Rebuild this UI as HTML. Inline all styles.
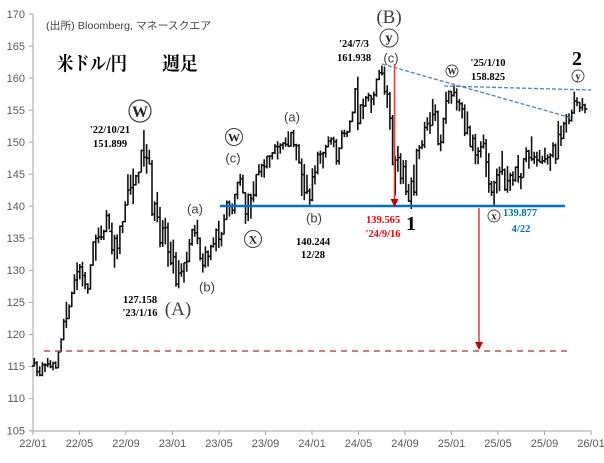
<!DOCTYPE html>
<html><head><meta charset="utf-8"><style>
html,body{margin:0;padding:0;background:#fff;}
svg{display:block;}
.ax{font-family:"Liberation Sans",sans-serif;font-size:11px;fill:#595959;}
.sf{font-family:"Liberation Serif","Noto Serif CJK JP",serif;font-weight:bold;font-size:10.5px;fill:#000;text-anchor:middle;}
.ss{font-family:"Liberation Sans",sans-serif;font-size:13px;fill:#404040;text-anchor:middle;}
.big{font-family:"Liberation Serif",serif;font-size:19px;fill:#404040;text-anchor:middle;}
.cl{font-family:"Liberation Serif",serif;font-weight:bold;fill:#222;text-anchor:middle;}
</style></head><body>
<svg id="c" width="604" height="463" viewBox="0 0 604 463" xmlns="http://www.w3.org/2000/svg">
<rect width="604" height="463" fill="#fff"/>
<g id="axes" stroke="#a6a6a6" stroke-width="1" fill="none">
<line x1="33" y1="14" x2="33" y2="431"/>
<line x1="33" y1="431" x2="591" y2="431"/>
</g>
<g id="yt"></g>
<g id="bars"></g>
<!-- lines -->
<line x1="44" y1="351" x2="567" y2="351" stroke="#c0504d" stroke-width="1.5" stroke-dasharray="6,5"/>
<line x1="220" y1="206" x2="565" y2="206" stroke="#0070c0" stroke-width="2.5"/>
<line x1="382" y1="64" x2="572" y2="118" stroke="#4f81c8" stroke-width="1.3" stroke-dasharray="4,2"/>
<line x1="444" y1="86" x2="591" y2="90" stroke="#4f81c8" stroke-width="1.3" stroke-dasharray="4,2"/>
<line x1="394.5" y1="64" x2="394.5" y2="200" stroke="#e0403c" stroke-width="1.5"/>
<polygon points="390.5,199 398.5,199 394.5,207" fill="#c00000"/>
<line x1="479" y1="208" x2="479" y2="343" stroke="#e0403c" stroke-width="1.5"/>
<polygon points="475,342 483,342 479,350" fill="#c00000"/>

<!-- texts -->
<text x="46" y="29" font-family="'Liberation Sans','Noto Sans CJK JP',sans-serif" font-size="10.5" fill="#404040" textLength="165" lengthAdjust="spacingAndGlyphs">(出所)  Bloomberg, マネースクエア</text>
<text x="57" y="70" font-family="'Liberation Serif','Noto Serif CJK JP',serif" font-weight="bold" font-size="19" fill="#000" textLength="70" lengthAdjust="spacingAndGlyphs">米ドル/円</text>
<text x="162" y="70" font-family="'Liberation Serif','Noto Serif CJK JP',serif" font-weight="bold" font-size="19" fill="#000" textLength="36" lengthAdjust="spacingAndGlyphs">週足</text>

<circle cx="140" cy="111" r="11" fill="#fff" stroke="#404040" stroke-width="1.2"/>
<text class="cl" x="140" y="117" font-size="16">W</text>
<text class="sf" x="110" y="133">'22/10/21</text>
<text class="sf" x="110" y="147">151.899</text>

<text class="ss" x="195" y="213.5">(a)</text>
<text class="ss" x="207" y="291.5">(b)</text>
<text class="sf" x="140" y="303">127.158</text>
<text class="sf" x="140" y="316">'23/1/16</text>
<text class="big" x="178" y="315">(A)</text>

<circle cx="234" cy="137" r="8.5" fill="#fff" stroke="#404040" stroke-width="1"/>
<text class="cl" x="234" y="141.5" font-size="12">W</text>
<text class="ss" x="233" y="162.5">(c)</text>
<circle cx="253" cy="239" r="8.5" fill="#fff" stroke="#404040" stroke-width="1"/>
<text class="cl" x="253" y="243.5" font-size="12">X</text>

<text class="ss" x="292" y="121.5">(a)</text>
<text class="ss" x="314" y="222.5">(b)</text>
<text class="sf" x="313" y="245">140.244</text>
<text class="sf" x="313" y="258">12/28</text>

<text class="big" x="389" y="23">(B)</text>
<circle cx="389" cy="38" r="9" fill="#fff" stroke="#404040" stroke-width="1"/>
<text class="cl" x="389" y="42" font-size="14">y</text>
<text class="ss" x="391" y="62.5">(c)</text>
<text class="sf" x="354" y="47">'24/7/3</text>
<text class="sf" x="354" y="61">161.938</text>

<text class="sf" x="383" y="223" style="fill:#ff0000">139.565</text>
<text class="sf" x="383" y="237" style="fill:#ff0000">'24/9/16</text>
<text class="cl" x="411" y="230" font-size="20" style="fill:#000">1</text>

<circle cx="452" cy="71" r="6" fill="#fff" stroke="#404040" stroke-width="0.9"/>
<text class="cl" x="452" y="74.5" font-size="9">W</text>
<text class="sf" x="488" y="66">'25/1/10</text>
<text class="sf" x="488" y="80">158.825</text>

<text class="cl" x="577" y="65" font-size="20" style="fill:#000">2</text>
<circle cx="578" cy="76" r="6" fill="#fff" stroke="#404040" stroke-width="0.9"/>
<text class="cl" x="578" y="79.5" font-size="10">y</text>

<circle cx="494" cy="216" r="6" fill="#fff" stroke="#404040" stroke-width="0.9"/>
<text class="cl" x="494" y="219.5" font-size="10">x</text>
<text class="sf" x="520" y="216" style="fill:#0070c0">139.877</text>
<text class="sf" x="521" y="232" style="fill:#0070c0">4/22</text>

<!-- axis labels -->
<g class="ax" text-anchor="end">
<text x="25" y="18">170</text><text x="25" y="50">165</text><text x="25" y="82">160</text>
<text x="25" y="114">155</text><text x="25" y="146">150</text><text x="25" y="178">145</text>
<text x="25" y="210">140</text><text x="25" y="242">135</text><text x="25" y="274">130</text>
<text x="25" y="306">125</text><text x="25" y="338">120</text><text x="25" y="370">115</text>
<text x="25" y="402">110</text><text x="25" y="434.7">105</text>
</g>
<g class="ax" text-anchor="middle">
<text x="33" y="447">22/01</text><text x="79.5" y="447">22/05</text><text x="126" y="447">22/09</text>
<text x="172.5" y="447">23/01</text><text x="219" y="447">23/05</text><text x="265.5" y="447">23/09</text>
<text x="312" y="447">24/01</text><text x="358.5" y="447">24/05</text><text x="405" y="447">24/09</text>
<text x="451.5" y="447">25/01</text><text x="498" y="447">25/05</text><text x="544.5" y="447">25/09</text>
<text x="591" y="447">26/01</text>
</g>
</svg>
<script>
(function(){
var raw="116.35 115.0 115.55|115.85 113.5 114.2|115.05 113.5 113.65|115.7 113.5 115.25|115.5 114.15 115.25|116.35 114.9 115.4|116.0 114.75 115.0|115.75 114.4 115.55|115.8 114.65 114.8|117.35 114.8 117.3|119.4 117.3 119.2|122.45 119.1 122.05|125.1 121.0 122.5|124.7 122.4 124.35|126.7 124.3 126.45|129.4 126.3 128.5|131.25 126.95 129.8|131.0 128.6 130.55|131.35 127.5 129.2|129.75 127.05 127.85|128.0 126.35 127.1|130.95 127.0 130.85|134.55 130.7 134.4|135.6 131.5 135.0|136.7 134.25 135.2|137.0 134.75 135.2|136.35 134.75 136.1|139.4 135.95 138.55|138.9 136.4 136.1|137.45 132.5 133.2|135.55 130.4 135.0|135.6 131.75 133.45|137.0 132.55 136.9|137.7 135.8 137.6|140.8 137.5 140.2|144.99 140.2 142.55|144.95 141.8 142.9|145.9 140.35 143.35|144.9 143.25 144.75|145.4 143.55 145.3|148.85 145.3 148.7|151.9 146.2 147.65|149.7 145.1 147.5|148.85 146.55 146.6|147.2 138.5 138.75|140.8 137.7 140.4|142.25 137.5 138.3|139.9 133.6 134.3|137.85 133.65 136.6|138.2 134.05 136.7|137.45 130.55 132.85|134.5 130.8 131.1|"+
"134.8 129.5 132.1|132.85 127.45 127.85|131.6 127.2 129.6|131.1 129.0 129.85|131.2 128.1 131.2|132.9 129.8 131.4|134.9 131.3 134.15|136.5 133.85 136.35|137.1 135.25 135.85|137.9 134.1 135.0|135.15 131.55 131.85|132.65 129.65 130.75|133.75 130.4 132.85|133.1 130.6 132.2|134.0 131.6 133.75|135.15 133.55 134.15|136.55 133.0 136.3|137.75 133.5 134.85|136.0 133.75 135.7|138.75 135.6 137.95|140.9 137.9 140.6|140.9 138.4 139.95|140.45 138.75 139.4|141.9 138.85 141.85|143.85 141.1 143.7|145.05 143.2 144.3|144.95 142.05 142.1|142.2 137.25 138.8|142.0 137.7 141.8|141.95 138.05 141.2|143.9 140.65 141.75|145.0 141.5 144.95|146.55 144.85 145.4|146.65 144.55 146.4|147.35 144.45 146.2|147.85 145.9 147.8|147.95 146.0 147.85|148.45 147.3 148.35|149.7 148.15 149.35|150.15 147.3 149.3|149.85 148.2 149.55|150.0 148.85 149.85|150.75 149.3 149.65|151.7 149.2 149.4|151.6 149.3 151.5|151.9 149.2 149.6|149.75 147.15 149.45|149.7 146.65 146.8|147.45 141.6 144.95|146.6 140.95 142.15|144.95 141.9 142.4|142.8 140.25 141.0|"+
"145.95 140.8 144.6|146.4 143.4 145.3|148.5 145.0 148.1|148.7 146.65 148.15|148.5 145.9 148.35|149.6 147.6 149.3|150.9 149.2 150.2|150.8 149.6 150.5|150.85 149.2 150.1|150.5 146.5 147.05|149.2 146.5 149.05|151.85 148.95 151.4|151.97 150.8 151.35|151.8 150.8 151.6|153.4 151.55 153.25|154.8 153.2 154.65|158.45 154.5 158.3|160.2 151.85 152.95|155.95 152.8 155.8|156.8 153.6 155.65|157.2 155.5 156.95|157.7 156.35 157.3|157.3 154.55 156.75|157.9 155.75 157.4|159.95 157.1 159.8|161.3 159.7 160.85|161.95 160.4 160.75|161.8 157.4 157.9|158.9 155.35 157.5|157.85 151.95 153.75|154.25 146.4 146.55|147.9 141.7 147.2|149.4 145.4 147.6|148.3 143.45 144.35|147.2 143.5 146.2|147.2 141.75 142.3|143.5 140.7 140.8|144.5 139.58 143.9|146.5 141.65 142.2|149.0 141.65 148.7|149.55 147.35 149.15|150.3 148.9 149.55|153.2 149.1 152.3|153.9 151.8 152.9|154.7 151.3 152.6|156.75 152.6 154.3|155.9 153.3 154.75|154.95 149.5 149.75|151.2 148.6 150.0|153.85 149.8 153.65|157.9 152.85 156.45|158.1 156.0 157.9|158.0 156.0 157.3|"+
"158.9 157.1 157.75|158.4 154.95 156.3|156.75 154.8 156.0|156.25 153.7 155.2|155.9 150.95 151.4|154.8 151.2 152.3|152.6 149.3 149.3|151.2 148.6 150.6|151.3 146.55 148.0|149.2 146.55 148.6|150.15 147.6 149.3|151.2 149.0 149.8|150.5 144.55 146.9|148.3 142.1 143.5|143.95 141.6 142.2|144.0 139.89 143.7|145.9 142.0 144.9|146.2 142.35 145.4|148.65 144.9 145.7|145.9 142.4 142.6|146.3 142.1 144.0|145.25 142.4 144.85|145.45 143.2 144.1|146.2 143.8 146.1|148.0 143.7 144.6|145.2 142.65 144.5|147.5 144.5 147.4|149.2 146.9 148.6|148.8 145.85 147.6|150.9 147.05 147.4|148.5 146.6 147.7|148.5 146.2 147.2|148.8 146.85 146.9|147.9 146.6 147.1|149.15 146.8 147.4|148.1 146.5 147.65|148.3 145.5 147.95|150.0 147.6 149.5|149.8 146.6 147.4|153.3 147.4 151.2|152.6 149.4 150.6|153.2 150.5 152.9|154.4 151.5 154.0|154.5 152.8 153.4|155.1 153.2 154.6|157.9 154.4 156.4|157.0 155.6 156.2|156.3 154.7 155.4|156.9 154.9 155.8|156.0 154.5 155.2";
var rows=raw.split("|");
function Y(p){return 14+(170-p)*6.41;}
var d="",o=115.1;
for(var i=0;i<rows.length;i++){
 var v=rows[i].split(" ").map(Number);
 var h=v[0],l=v[1],c=v[2];
 var x=33+(3.5+7*i)*0.3819;
 x=Math.round(x*10)/10;
 d+="M"+x+" "+Y(h).toFixed(1)+"V"+Y(l).toFixed(1);
 d+="M"+(x-2.4).toFixed(1)+" "+Y(o).toFixed(1)+"H"+x;
 d+="M"+x+" "+Y(c).toFixed(1)+"H"+(x+2.4).toFixed(1);
 o=c;
}
var ns="http://www.w3.org/2000/svg";
var p=document.createElementNS(ns,"path");
p.setAttribute("d",d);p.setAttribute("stroke","#111");p.setAttribute("stroke-width","1.6");p.setAttribute("fill","none");
document.getElementById("bars").appendChild(p);
var t="";
for(var k=0;k<=13;k++){var yy=(14+k*5*6.41).toFixed(1);t+="M29 "+yy+"H33";}
var xs=[33,79.5,126,172.5,219,265.5,312,358.5,405,451.5,498,544.5,591];
for(var j=0;j<xs.length;j++){t+="M"+xs[j]+" 431V435";}
var q=document.createElementNS(ns,"path");
q.setAttribute("d",t);q.setAttribute("stroke","#a6a6a6");q.setAttribute("stroke-width","1");q.setAttribute("fill","none");
document.getElementById("yt").appendChild(q);
})();
</script>
</body></html>
